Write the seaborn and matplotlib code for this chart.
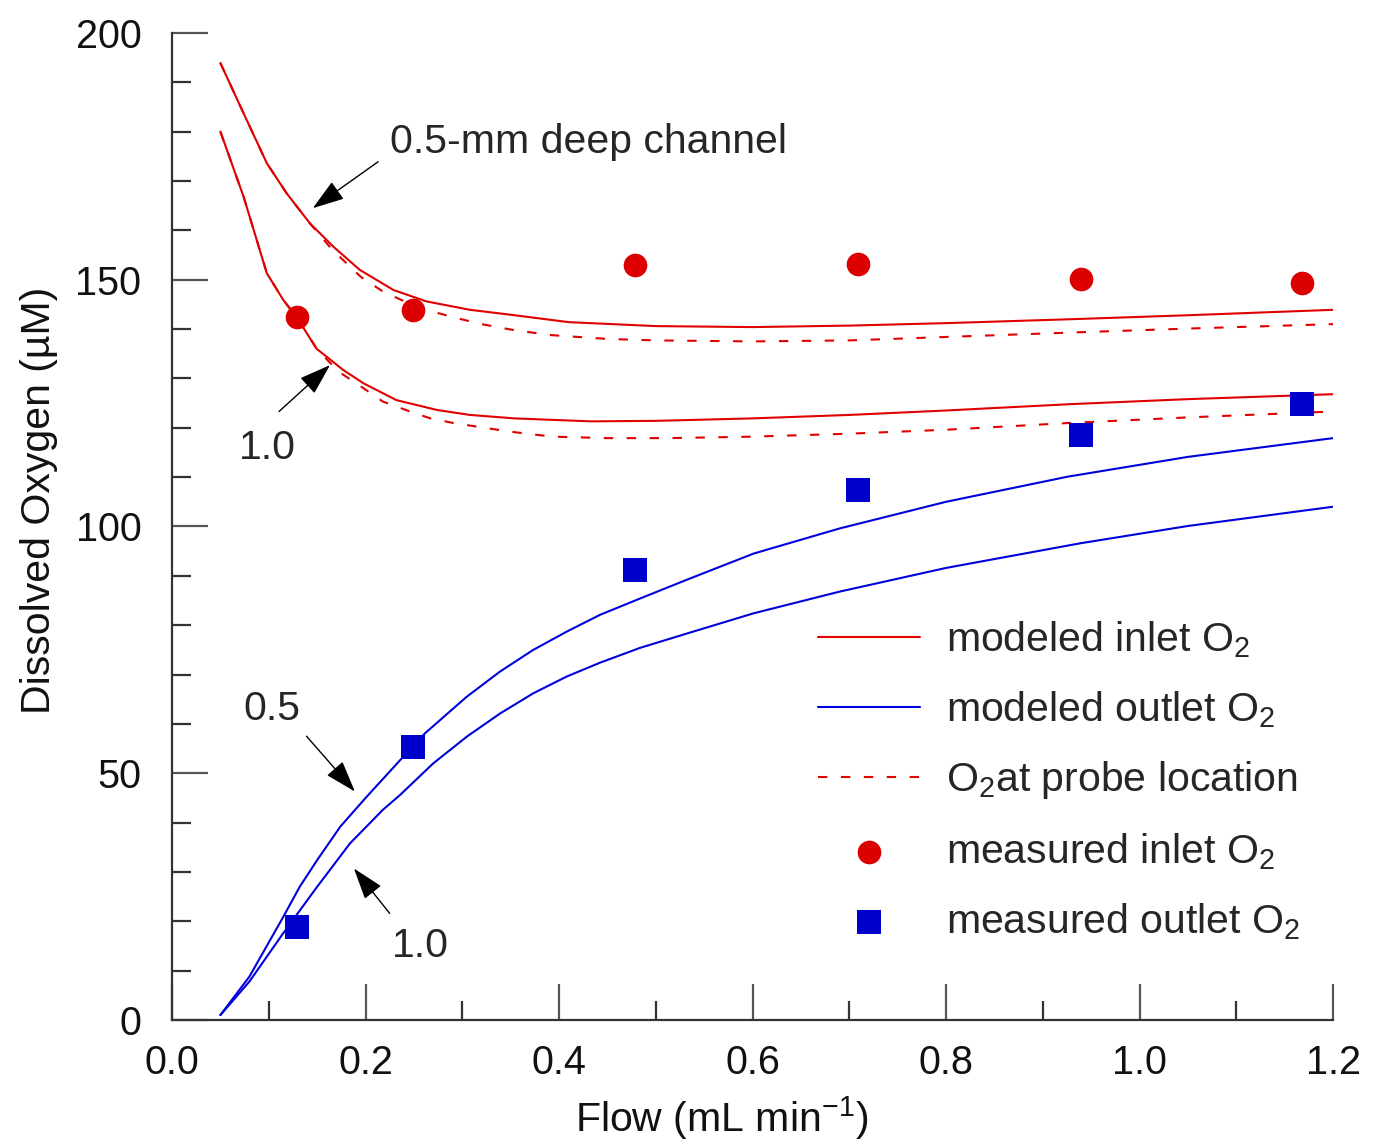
import numpy as np
import matplotlib
matplotlib.use("Agg")
import matplotlib.pyplot as plt
from matplotlib.ticker import MultipleLocator, FormatStrFormatter
import seaborn as sns

# ── data ─────────────────────────────────────────────────────
# modeled inlet O2, 0.5-mm deep channel
inlet05_x = [0.05, 0.074, 0.098, 0.1185, 0.1426, 0.1667, 0.194, 0.229, 0.263, 0.308,
             0.35, 0.41, 0.5, 0.6, 0.7, 0.8, 0.93, 1.05, 1.2]
inlet05_y = [193.9, 183.7, 173.6, 167.5, 161.4, 156.7, 152.0, 147.9, 145.6, 143.9,
             142.9, 141.4, 140.6, 140.4, 140.7, 141.2, 142.0, 142.8, 143.9]
# O2 at probe location, 0.5-mm
probe05_x = [0.05, 0.074, 0.098, 0.1185, 0.1426, 0.165, 0.195, 0.218, 0.245, 0.27,
             0.2925, 0.32, 0.35, 0.39, 0.45, 0.5, 0.6, 0.7, 0.8, 0.93, 1.05, 1.2]
probe05_y = [193.9, 183.7, 173.6, 167.5, 161.4, 156.2, 150.6, 147.6, 145.2, 143.5,
             142.3, 141.0, 139.9, 138.8, 138.0, 137.7, 137.5, 137.7, 138.4, 139.3, 140.1, 141.0]
# modeled inlet O2, 1.0-mm
inlet10_x = [0.05, 0.074, 0.098, 0.115, 0.1295, 0.1495, 0.177, 0.198, 0.232, 0.274,
             0.308, 0.354, 0.433, 0.5, 0.6, 0.7, 0.8, 0.93, 1.05, 1.2]
inlet10_y = [180.0, 166.8, 151.3, 145.9, 142.2, 136.0, 131.7, 129.0, 125.6, 123.6,
             122.6, 121.9, 121.3, 121.4, 121.9, 122.6, 123.5, 124.8, 125.8, 126.8]
# O2 at probe location, 1.0-mm
probe10_x = [0.05, 0.074, 0.098, 0.115, 0.1295, 0.1495, 0.172, 0.198, 0.218, 0.246,
             0.267, 0.2925, 0.35, 0.393, 0.45, 0.512, 0.6, 0.7, 0.8, 0.93, 1.05, 1.2]
probe10_y = [180.0, 166.8, 151.3, 145.9, 142.2, 136.0, 131.4, 128.0, 125.3, 123.3,
             121.9, 120.9, 119.2, 118.2, 117.9, 117.9, 118.2, 118.8, 119.6, 121.0, 122.1, 123.3]
# modeled outlet O2, 0.5-mm
outlet05_x = [0.05, 0.08, 0.115, 0.132, 0.15, 0.174, 0.201, 0.236, 0.2615, 0.3046,
              0.339, 0.3734, 0.408, 0.4424, 0.4837, 0.532, 0.601, 0.69, 0.8, 0.926,
              1.05, 1.2]
outlet05_y = [1.0, 8.8, 20.9, 27.0, 32.4, 39.2, 45.2, 52.7, 58.1, 65.5,
              70.6, 75.0, 78.7, 82.1, 85.4, 89.2, 94.5, 99.6, 105.0, 110.1,
              114.1, 117.9]
# modeled outlet O2, 1.0-mm
outlet10_x = [0.05, 0.08, 0.115, 0.15, 0.184, 0.218, 0.2357, 0.27, 0.3046, 0.339,
              0.3734, 0.408, 0.4424, 0.4837, 0.532, 0.601, 0.69, 0.8, 0.939, 1.05, 1.2]
outlet10_y = [1.0, 7.8, 17.6, 27.0, 35.8, 42.6, 45.6, 52.0, 57.4, 62.1,
              66.2, 69.6, 72.4, 75.4, 78.3, 82.4, 86.8, 91.6, 96.6, 100.1, 104.0]

# measured points
flow_meas = [0.129, 0.249, 0.479, 0.709, 0.939, 1.168]
inlet_meas = [142.5, 143.9, 153.0, 153.2, 150.2, 149.3]
outlet_meas = [18.8, 55.3, 91.1, 107.4, 118.5, 124.8]

RED = "#e00000"
BLUE = "#0000dd"
DASH = (0, (4.5, 6.5))

# ── style ────────────────────────────────────────────────────
sns.set_theme(style="ticks")
plt.rcParams["font.family"] = ["Liberation Sans", "DejaVu Sans"]
plt.rcParams["mathtext.fontset"] = "custom"
plt.rcParams["mathtext.rm"] = "Liberation Sans"
plt.rcParams["mathtext.it"] = "Liberation Sans:italic"
plt.rcParams["mathtext.default"] = "regular"

fig = plt.figure(figsize=(13.74, 11.48), dpi=100)
ax = fig.add_axes([0.1252, 0.1115, 0.845, 0.8598])

# ── curves ───────────────────────────────────────────────────
sns.lineplot(x=inlet05_x, y=inlet05_y, ax=ax, color=RED, lw=1.5, label="modeled inlet O$_2$")
sns.lineplot(x=inlet10_x, y=inlet10_y, ax=ax, color=RED, lw=1.5)
sns.lineplot(x=outlet05_x, y=outlet05_y, ax=ax, color=BLUE, lw=1.5, label="modeled outlet O$_2$")
sns.lineplot(x=outlet10_x, y=outlet10_y, ax=ax, color=BLUE, lw=1.5)
sns.lineplot(x=probe05_x, y=probe05_y, ax=ax, color=RED, lw=1.5, linestyle=DASH,
             label="O$_2$at probe location")
sns.lineplot(x=probe10_x, y=probe10_y, ax=ax, color=RED, lw=1.5, linestyle=DASH)

sns.scatterplot(x=flow_meas, y=inlet_meas, ax=ax, color="#dd0000", marker="o", s=290,
                linewidth=0, label="measured inlet O$_2$", zorder=5)
sns.scatterplot(x=flow_meas, y=outlet_meas, ax=ax, color="#0000cc", marker="s", s=300,
                linewidth=0, label="measured outlet O$_2$", zorder=5)

# ── annotations ──────────────────────────────────────────────
arrow = dict(arrowstyle="-|>,head_length=0.9,head_width=0.3", color="black", lw=1,
             shrinkA=0, shrinkB=0, mutation_scale=22)
ax.annotate("", xy=(0.1455, 164.5), xytext=(0.213, 173.9), arrowprops=arrow)
ax.annotate("", xy=(0.1633, 132.7), xytext=(0.1106, 123.3), arrowprops=arrow)
ax.annotate("", xy=(0.189, 46.3), xytext=(0.139, 57.5), arrowprops=arrow)
ax.annotate("", xy=(0.188, 30.7), xytext=(0.225, 21.6), arrowprops=arrow)

ax.text(0.2253, 175.7, "0.5-mm deep channel", fontsize=29.5, ha="left", va="baseline")
ax.text(0.0988, 113.6, "1.0", fontsize=29.5, ha="center", va="baseline")
ax.text(0.1028, 60.8, "0.5", fontsize=29.5, ha="center", va="baseline")
ax.text(0.257, 12.8, "1.0", fontsize=29.5, ha="center", va="baseline")

# ── axes ─────────────────────────────────────────────────────
ax.set_xlim(0, 1.2)
ax.set_ylim(0, 200)
ax.xaxis.set_major_locator(MultipleLocator(0.2))
ax.xaxis.set_minor_locator(MultipleLocator(0.1))
ax.yaxis.set_major_locator(MultipleLocator(50))
ax.yaxis.set_minor_locator(MultipleLocator(10))
ax.xaxis.set_major_formatter(FormatStrFormatter("%.1f"))

sns.despine(ax=ax)
for side in ("left", "bottom"):
    ax.spines[side].set_linewidth(1.6)
    ax.spines[side].set_color("#333333")
ax.tick_params(which="major", direction="in", length=26, width=1.6, color="#555555",
               labelsize=28.5, labelcolor="#111111")
ax.tick_params(which="minor", direction="in", length=13.5, width=1.6, color="#333333")
ax.tick_params(axis="y", which="major", pad=22)
ax.tick_params(axis="x", which="major", pad=17)

ax.set_xlabel("Flow (mL min$^{-1}$)", fontsize=29.5, color="#111111")
ax.set_ylabel("Dissolved Oxygen (µM)", fontsize=29.5, color="#111111")
ax.xaxis.set_label_coords(0.4737, -0.075)
ax.yaxis.set_label_coords(-0.098, 0.526)

handles, labels = ax.get_legend_handles_labels()
ax.legend(handles, labels, loc="upper left", bbox_to_anchor=(0.556, 0.406),
          frameon=False, fontsize=29.5, handlelength=2.49, handletextpad=0.65,
          labelspacing=0.72, borderpad=0, borderaxespad=0)

fig.savefig("out.png", dpi=100)
